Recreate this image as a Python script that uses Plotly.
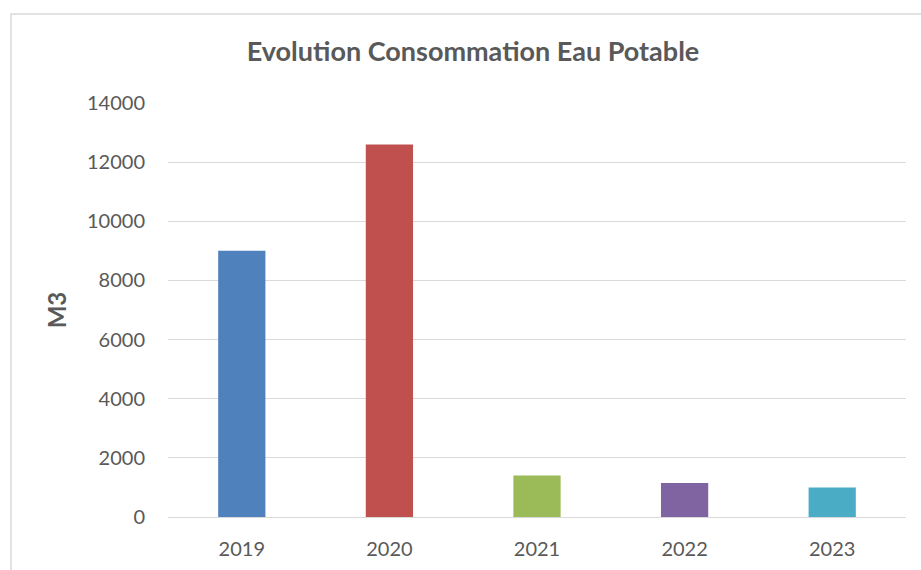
import plotly.graph_objects as go

# data
years = ["2019", "2020", "2021", "2022", "2023"]
volumes_m3 = [9000, 12600, 1400, 1150, 1000]
bar_colors = ["#4F81BD", "#C0504D", "#9BBB59", "#8064A2", "#4BACC6"]
y_ticks = [0, 2000, 4000, 6000, 8000, 10000, 12000, 14000]

grey_txt = "#595959"
grid = "#D9D9D9"

W, H = 921, 570

fig = go.Figure()
fig.add_trace(go.Bar(
    x=years, y=volumes_m3,
    marker=dict(color=bar_colors, line=dict(width=0)),
    width=0.32,
    showlegend=False,
))

fig.update_layout(
    width=W, height=H,
    margin=dict(l=168, r=15, t=103, b=H - 517),
    paper_bgcolor="white", plot_bgcolor="white",
    font=dict(family="Lato", color=grey_txt, size=20),
    title=dict(text="<b>Evolution Consommation Eau Potable</b>",
               x=473 / W, xref="container", xanchor="center",
               y=1 - 52 / H, yref="container", yanchor="middle",
               font=dict(family="Lato", size=27, color=grey_txt)),
)

fig.update_yaxes(
    range=[0, 14000], tickvals=y_ticks, ticktext=[str(v) for v in y_ticks],
    showgrid=True, gridcolor=grid, gridwidth=1,
    zeroline=True, zerolinecolor=grid, zerolinewidth=1,
    showline=False, ticks="", ticklabelstandoff=22, automargin=False,
    tickfont=dict(size=20, color=grey_txt),
    title=dict(text="<b>M3</b>", font=dict(size=24, color=grey_txt), standoff=13),
)
fig.update_xaxes(
    showgrid=False, showline=False, ticks="", automargin=False,
    tickfont=dict(size=20, color=grey_txt), ticklabelstandoff=18,
)

# light frame around the chart area like the original
fig.add_shape(type="rect", xref="paper", yref="paper",
              x0=(11 - 168) / 738, x1=1.05, y0=-0.2, y1=(517 - 14) / 414,
              line=dict(color="#D9D9D9", width=1.5), fillcolor="rgba(0,0,0,0)",
              layer="below")

# no body margin / scrollbars so the figure sits at 0,0 in the window
fig.write_html("out.html", config={"displayModeBar": False},
               post_script="document.body.style.margin='0px';document.body.style.overflow='hidden';")
